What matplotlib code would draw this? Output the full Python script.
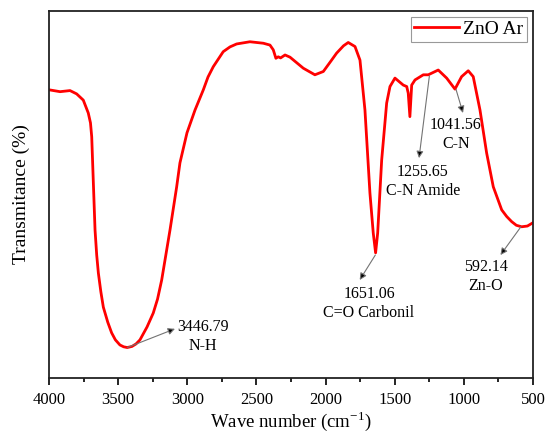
import matplotlib
matplotlib.use('Agg')
import matplotlib.pyplot as plt
from matplotlib.ticker import MultipleLocator

plt.rcParams['font.family'] = ['Liberation Serif', 'DejaVu Serif']

# spectrum (arbitrary transmittance units 0-100)
wavenumber = [3998, 3920, 3848, 3800, 3752, 3716, 3700, 3691, 3680, 3667,
              3655, 3643, 3625, 3607, 3575, 3547, 3520, 3487, 3460, 3434,
              3400, 3370, 3342, 3291, 3246, 3215, 3185, 3125, 3077, 3053,
              3002, 2944, 2884, 2850, 2812, 2740, 2691, 2643, 2547, 2450,
              2402, 2378, 2359, 2342, 2325, 2293, 2257, 2161, 2077, 2016,
              1960, 1920, 1870, 1836, 1787, 1751, 1715, 1679, 1655, 1638,
              1623, 1594, 1558, 1534, 1498, 1438, 1413, 1402, 1390, 1377,
              1353, 1293, 1257, 1185, 1124, 1064, 1016, 968, 932, 883,
              835, 787, 726, 690, 654, 620, 582, 540, 500]
transmit = [78.5, 78.0, 78.3, 77.4, 75.7, 72.2, 69.5, 65.7, 54.0, 40.3,
            33.5, 28.6, 23.5, 19.3, 15.2, 12.3, 10.4, 9.0, 8.5, 8.3,
            8.6, 9.3, 10.4, 13.9, 17.7, 21.5, 26.7, 40.3, 52.0, 58.6,
            66.8, 73.0, 78.5, 82.0, 84.8, 88.9, 90.2, 91.0, 91.6, 91.2,
            90.7, 89.4, 87.1, 87.5, 87.2, 88.0, 87.4, 84.4, 82.6, 83.5,
            86.4, 88.5, 90.5, 91.4, 90.3, 86.6, 73.0, 50.4, 39.5, 34.1,
            39.5, 59.4, 74.9, 79.4, 81.7, 79.8, 79.4, 77.6, 71.2, 79.8,
            81.2, 82.6, 82.6, 83.9, 81.7, 78.7, 82.1, 83.7, 82.1, 73.0,
            61.3, 52.1, 45.8, 44.0, 42.6, 41.6, 41.2, 41.4, 42.3]

# peak labels: text, peak point, arrow head, text centre
labels = ['3446.79\nN-H', '1651.06\nC=O Carbonil', '592.14\nZn-O',
          '1041.56\nC-N', '1255.65\nC-N Amide']
peak_pts = [(3434, 8.3), (1640, 33.5), (587, 41.2), (1057, 78.7), (1249, 82.3)]
head_pts = [(3089, 13.4), (1753, 26.7), (735, 33.5), (1006, 72.2), (1324, 59.9)]
text_pts = [(2886, 11.2), (1686, 20.2), (840, 27.7), (1057, 66.2), (1296, 53.5)]

fig = plt.figure(figsize=(5.45, 4.37), dpi=100)
ax = fig.add_axes([0.0899, 0.135, 0.888, 0.84])

ax.plot(wavenumber, transmit, color='#ff0000', lw=2.0, label='ZnO Ar',
        solid_joinstyle='round')

for txt, p, h, t in zip(labels, peak_pts, head_pts, text_pts):
    ax.annotate('', xy=h, xytext=p,
                arrowprops=dict(arrowstyle='-|>', ec='0.45', fc='black',
                                lw=0.8, mutation_scale=10, shrinkA=0, shrinkB=0))
    ax.text(t[0], t[1], txt, ha='center', va='center', fontsize=11.5,
            linespacing=1.25)

ax.set_xlim(4000, 500)
ax.set_ylim(0, 100)
ax.xaxis.set_major_locator(MultipleLocator(500))
ax.xaxis.set_minor_locator(MultipleLocator(250))
ax.tick_params(axis='x', which='major', direction='out', length=5, width=1.2,
               labelsize=12, pad=5)
ax.tick_params(axis='x', which='minor', direction='out', length=3, width=1.2)
ax.set_yticks([])
for s in ax.spines.values():
    s.set_linewidth(1.3)
    s.set_color('#222222')

ax.set_xlabel('Wave number (cm$^{\\mathregular{-1}}$)', fontsize=13.5, labelpad=1)
ax.set_ylabel('Transmitance (%)', fontsize=14, labelpad=14)

leg = ax.legend(loc='upper right', fontsize=14, fancybox=False,
                edgecolor='0.5', handlelength=2.3, borderpad=0.2,
                borderaxespad=0.3, handletextpad=0.2)
leg.get_frame().set_linewidth(0.8)

fig.savefig('out.png', dpi=100)
